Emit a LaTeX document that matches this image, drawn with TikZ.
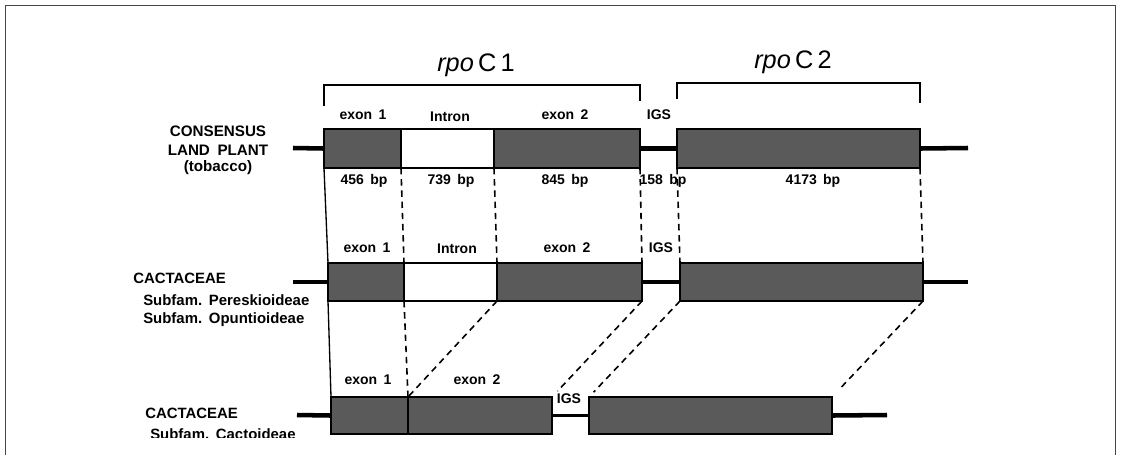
\documentclass[tikz,border=0pt]{standalone}
\usepackage{fontspec}
\setmainfont{Liberation Sans}
\usetikzlibrary{fit}
\definecolor{genegray}{RGB}{90,90,90}
\definecolor{framegray}{RGB}{70,70,70}
\begin{document}
\begin{tikzpicture}[x=0.75pt,y=-0.75pt,
  genebox/.style={draw=black,line width=1.4pt,fill=genegray,inner sep=0pt,outer sep=0pt},
  intronbox/.style={draw=black,line width=1.4pt,fill=white,inner sep=0pt,outer sep=0pt},
  dna/.style={line width=3.4pt},
  bracket/.style={line width=1.2pt},
  maplink/.style={line width=1.2pt,dash pattern=on 4.8pt off 3.6pt},
  solidlink/.style={line width=1pt},
  lbl/.style={font=\bfseries\fontsize{10.5}{12}\selectfont,anchor=base,inner sep=0pt},
  side/.style={font=\bfseries\fontsize{11.2}{13}\selectfont,anchor=base west,inner sep=0pt},
  sidec/.style={font=\bfseries\fontsize{11.4}{13}\selectfont,anchor=base,inner sep=0pt},
  genetitle/.style={font=\fontsize{19}{22}\selectfont,anchor=base,inner sep=0pt}]
\useasboundingbox (0,0) rectangle (1121,455);
% frame
\draw[framegray,line width=1.4pt] (5.5,455) -- (5.5,5.5) -- (1115.5,5.5) -- (1115.5,455);

% titles and brackets
\node[genetitle] (t1) at (476,71) {\textit{rpo}\,C\,1};
\node[genetitle] (t2) at (793,68) {\textit{rpo}\,C\,2};
\draw[bracket] (324,106) -- (324,85) -- (640,85) -- (640,101);
\draw[bracket] (677,99) -- (677,83) -- (920,83) -- (920,103);

% row end coordinates
\coordinate (L1) at (293,148);
\coordinate (R1) at (968,148);
\coordinate (L2) at (293,282);
\coordinate (R2) at (968,282);
\coordinate (L3) at (297,415);
\coordinate (R3) at (887,415);

% row 1: consensus land plant
\node[genebox,fit={(324,129) (401,168)}] (a1) {};
\node[intronbox,fit={(401,129) (494,168)}] (a2) {};
\node[genebox,fit={(494,129) (640,168)}] (a3) {};
\node[genebox,fit={(677,129) (920,168)}] (a4) {};
\draw[dna] (L1) -- (a1.west);
\draw[dna] (a3.east) -- (a4.west);
\draw[dna] (a4.east) -- (R1);

% row 2
\node[genebox,fit={(328,263) (404,301)}] (b1) {};
\node[intronbox,fit={(404,263) (497,301)}] (b2) {};
\node[genebox,fit={(497,263) (642,301)}] (b3) {};
\node[genebox,fit={(680,263) (923,301)}] (b4) {};
\draw[dna] (L2) -- (b1.west);
\draw[dna,line width=2.8pt] (b3.east) -- (b4.west);
\draw[dna] (b4.east) -- (R2);

% row 3
\node[genebox,fit={(331,397) (408,434)}] (c1) {};
\node[genebox,fit={(408,397) (552,434)}] (c2) {};
\node[genebox,fit={(589,397) (832,434)}] (c3) {};
\draw[dna] (L3) -- (c1.west);
\draw[dna,line width=2.8pt] (c2.east) -- (c3.west);
\draw[dna] (c3.east) -- (R3);

% links row1 -> row2
\draw[solidlink] (a1.south west) -- (b1.north west);
\draw[maplink] (a1.south east) -- (b1.north east);
\draw[maplink] (a2.south east) -- (b2.north east);
\draw[maplink] (a3.south east) -- (b3.north east);
\draw[maplink] (a4.south west) -- (b4.north west);
\draw[maplink] (a4.south east) -- (b4.north east);
% links row2 -> row3
\draw[solidlink] (b1.south west) -- (c1.north west);
\draw[maplink] (b1.south east) -- (c1.north east);
\draw[maplink] (b2.south east) -- (c1.north east);
\draw[maplink,shorten >=6pt] (b3.south east) -- (c2.north east);
\draw[maplink,shorten >=5pt] (b4.south west) -- (c3.north west);
\draw[maplink,shorten >=7pt] (b4.south east) -- (c3.north east);

% row 1 labels
\node[lbl] (l1a) at (363,119) {exon\hspace{0.45em}1};
\node[lbl] (l1b) at (450,121) {Intron};
\node[lbl] (l1c) at (565,119) {exon\hspace{0.45em}2};
\node[lbl] (l1d) at (659,119) {IGS};
\node[lbl] (s1a) at (364,184) {456\hspace{0.45em}bp};
\node[lbl] (s1b) at (451,184) {739\hspace{0.45em}bp};
\node[lbl] (s1c) at (565,184) {845\hspace{0.45em}bp};
\node[lbl] (s1d) at (663,184) {158\hspace{0.45em}bp};
\node[lbl] (s1e) at (813,184) {4173\hspace{0.45em}bp};

% row 2 labels
\node[lbl] (l2a) at (367,252) {exon\hspace{0.45em}1};
\node[lbl] (l2b) at (457,253) {Intron};
\node[lbl] (l2c) at (567,252) {exon\hspace{0.45em}2};
\node[lbl] (l2d) at (661,252) {IGS};

% row 3 labels
\node[lbl] (l3a) at (368,384) {exon\hspace{0.45em}1};
\node[lbl] (l3b) at (477,384) {exon\hspace{0.45em}2};
\node[lbl] (l3c) at (569,403) {IGS};

% side labels
\node[sidec] (n1) at (218,136) {CONSENSUS};
\node[sidec] (n1b) at (218,155) {LAND\hspace{0.5em}PLANT};
\node[sidec] (n1c) at (218,171) {(tobacco)};
\node[side] (n2) at (133,283) {CACTACEAE};
\node[side] (n2b) at (143,305) {Subfam.\hspace{0.45em}Pereskioideae};
\node[side] (n2c) at (143,323) {Subfam.\hspace{0.45em}Opuntioideae};
\node[side] (n3) at (145,418) {CACTACEAE};
\begin{scope}
\clip (0,0) rectangle (1121,437);
\node[side] (n3b) at (150,439) {Subfam.\hspace{0.45em}Cactoideae};
\end{scope}
\end{tikzpicture}
\end{document}
